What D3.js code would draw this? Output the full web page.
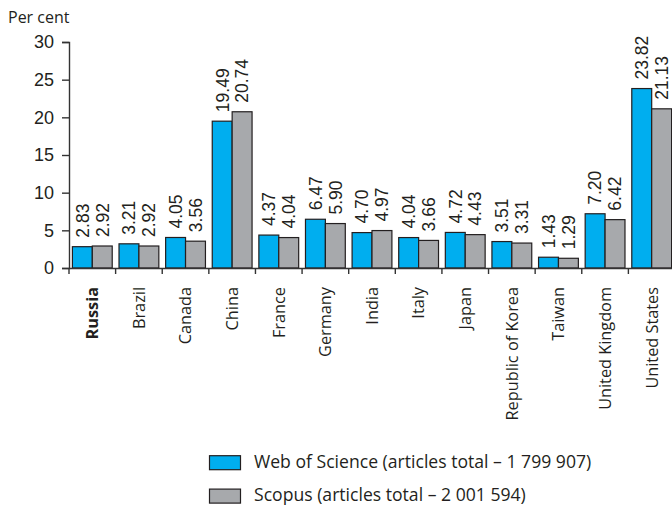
<!DOCTYPE html>
<html>
<head>
<meta charset="utf-8">
<script src="https://cdn.jsdelivr.net/npm/d3@7"></script>
<style>
  html, body { margin: 0; padding: 0; background: #fff; }
  svg { display: block; }
  .narrow { font-family: "Liberation Sans Narrow", "Arial Narrow", "Liberation Sans", sans-serif; }
  .human { font-family: "Open Sans", "Noto Sans", sans-serif; }
</style>
</head>
<body>
<svg id="chart" width="672" height="506"></svg>
<script>
// Share of world articles by country, per cent
const countries = ["Russia", "Brazil", "Canada", "China", "France", "Germany", "India",
  "Italy", "Japan", "Republic of Korea", "Taiwan", "United Kingdom", "United States"];
const webOfScience = [2.83, 3.21, 4.05, 19.49, 4.37, 6.47, 4.70, 4.04, 4.72, 3.51, 1.43, 7.20, 23.82];
const scopus = [2.92, 2.92, 3.56, 20.74, 4.04, 5.90, 4.97, 3.66, 4.43, 3.31, 1.29, 6.42, 21.13];
const seriesNames = ["Web of Science (articles total – 1 799 907)", "Scopus (articles total – 2 001 594)"];
const seriesColors = ["#00aeef", "#a7a9ac"];
const yTicks = [0, 5, 10, 15, 20, 25, 30];
const boldCategory = "Russia";

const seriesValues = [webOfScience, scopus];
const rows = countries.map((c, i) => ({ country: c, values: seriesValues.map(s => s[i]) }));

const svg = d3.select("#chart");
const plotLeft = 69, plotRight = 675, plotTop = 42, plotBottom = 268;

const x = d3.scaleBand().domain(countries).range([plotLeft, plotRight]).padding(0);
const xs = d3.scaleBand().domain(d3.range(seriesValues.length)).range([3.4, x.bandwidth() - 3.4]).padding(0);
const y = d3.scaleLinear().domain([0, 30]).range([plotBottom, plotTop]);

// y axis
const yAxis = svg.append("g")
  .attr("transform", `translate(${plotLeft},0)`)
  .call(d3.axisLeft(y).tickValues(yTicks).tickSize(7).tickPadding(8));
yAxis.select(".domain").attr("stroke", "#333").attr("stroke-width", 1.4);
yAxis.selectAll(".tick line").attr("stroke", "#333").attr("stroke-width", 1.4);
yAxis.selectAll(".tick text").attr("class", "narrow").attr("font-size", 18).attr("fill", "#231f20");

// "Per cent" unit label
svg.append("text").attr("class", "human")
  .attr("x", 8).attr("y", 23)
  .attr("font-size", 16).attr("fill", "#231f20")
  .text("Per cent");

// bars
const groups = svg.append("g").selectAll("g")
  .data(rows).join("g")
  .attr("transform", d => `translate(${x(d.country)},0)`);

groups.selectAll("rect")
  .data(d => d.values.map((v, k) => ({ v, k })))
  .join("rect")
  .attr("x", d => xs(d.k))
  .attr("y", d => y(d.v))
  .attr("width", xs.bandwidth())
  .attr("height", d => y(0) - y(d.v))
  .attr("fill", d => seriesColors[d.k])
  .attr("stroke", "#231f20")
  .attr("stroke-width", 1.2);

// value labels above bars
groups.selectAll("text.val")
  .data(d => d.values.map((v, k) => ({ v, k })))
  .join("text")
  .attr("class", "val narrow")
  .attr("transform", d => `translate(${xs(d.k) + xs.bandwidth() / 2},${y(d.v) - 9}) rotate(-90)`)
  .attr("dy", "0.36em")
  .attr("font-size", 17.5)
  .attr("fill", "#231f20")
  .text(d => d.v.toFixed(2));

// x axis
const xAxis = svg.append("g")
  .attr("transform", `translate(0,${plotBottom})`)
  .call(d3.axisBottom(x).tickSize(0).tickFormat(""));
xAxis.select(".domain").attr("stroke", "#333").attr("stroke-width", 1.4);
xAxis.selectAll(".tick").remove();

// category separators
svg.append("g").selectAll("line")
  .data(countries)
  .join("line")
  .attr("x1", d => x(d)).attr("x2", d => x(d))
  .attr("y1", plotBottom).attr("y2", plotBottom + 6)
  .attr("stroke", "#333").attr("stroke-width", 1.4);

// category labels
svg.append("g").selectAll("text")
  .data(countries)
  .join("text")
  .attr("class", "human")
  .attr("transform", d => `translate(${x(d) + x.bandwidth() / 2},${plotBottom + 19}) rotate(-90)`)
  .attr("text-anchor", "end")
  .attr("dy", "0.36em")
  .attr("font-size", 16.3)
  .attr("font-weight", d => d === boldCategory ? "bold" : "normal")
  .attr("fill", "#231f20")
  .text(d => d);

// legend
const legend = svg.append("g").selectAll("g")
  .data(seriesNames)
  .join("g")
  .attr("transform", (d, i) => `translate(209.5,${455.7 + i * 33.4})`);
legend.append("rect")
  .attr("width", 31).attr("height", 14)
  .attr("fill", (d, i) => seriesColors[i])
  .attr("stroke", "#231f20").attr("stroke-width", 1.2);
legend.append("text")
  .attr("class", "human")
  .attr("x", 44.5).attr("y", 12.2)
  .attr("font-size", 17.6).attr("fill", "#231f20")
  .text(d => d);
</script>
</body>
</html>
